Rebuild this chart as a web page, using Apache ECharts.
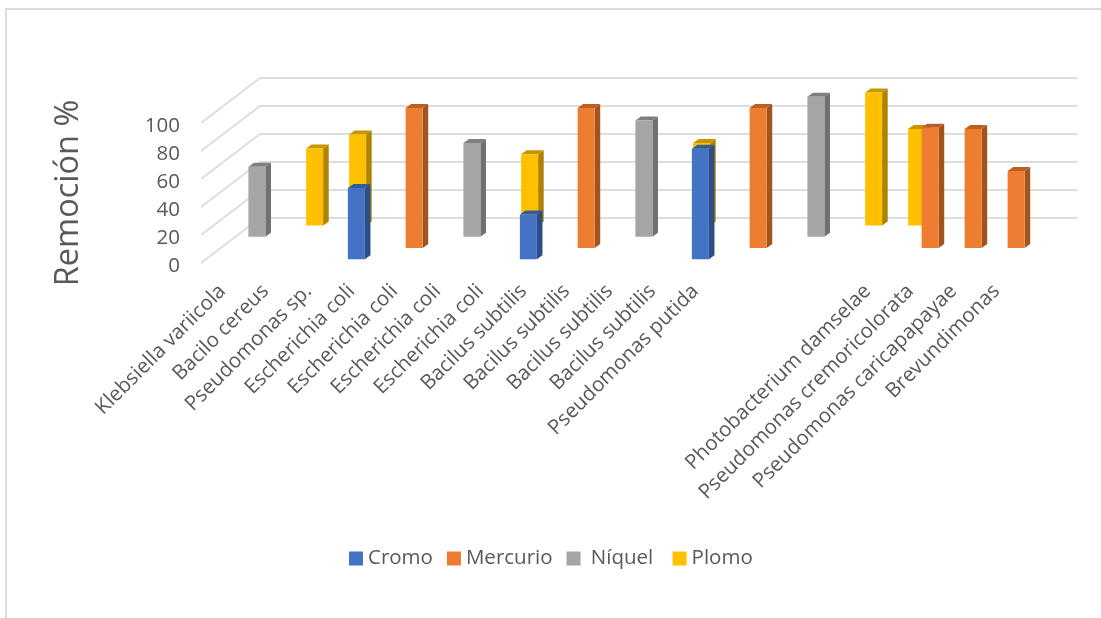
<!DOCTYPE html>
<html>
<head>
<meta charset="utf-8">
<style>html,body{margin:0;padding:0;background:#fff}#c{width:1101px;height:618px}</style>
<script src="https://cdn.jsdelivr.net/npm/echarts@6/dist/echarts.min.js"></script>
</head>
<body>
<div id="c"></div>
<script>
// Bacterial species, one slot per bar; three slots carry no label
const categories = ['Klebsiella variicola','Bacilo cereus','Pseudomonas sp.','Escherichia coli','Escherichia coli','Escherichia coli','Escherichia coli','Bacilus subtilis','Bacilus subtilis','Bacilus subtilis','Bacilus subtilis','Pseudomonas putida','','','','Photobacterium damselae','Pseudomonas cremoricolorata','Pseudomonas caricapapayae','Brevundimonas'];
const n = null;
const cromo    = [n,n,n,51,n,n,n,32,n,n,n,79,n,n,n,n,n,n,n];
const mercurio = [n,n,n,n,100,n,n,n,100,n,n,n,100,n,n,n,86,85,55];
const niquel   = [50,n,n,n,n,67,n,n,n,83,n,n,n,100,n,n,n,n,n];
const plomo    = [n,55,65,n,n,n,51,n,n,n,59,n,n,n,95,69,n,n,n];
const yTicks   = [0,20,40,60,80,100];

// Oblique projection of the depth axis, in pixels
const DEPTH_X = 59, DEPTH_Y = -45;
const BAR_W = 17, SIDE_X = 5.6, SIDE_Y = -4;

const gridLeft = 201, gridTop = 123, gridW = 817, gridH = 140;
const ink = '#595959';
const fontFamily = '"Open Sans", sans-serif';

function wallLines(params, api) {
  const y = api.coord([0, api.value(0)])[1];
  const x0 = params.coordSys.x, x1 = x0 + params.coordSys.width;
  return {
    type: 'polyline',
    shape: { points: [[x0, y], [x0 + DEPTH_X, y + DEPTH_Y], [x1 + DEPTH_X, y + DEPTH_Y]] },
    style: { stroke: '#dddddd', lineWidth: 2, fill: null }
  };
}

// A prism standing at a given row of the depth axis
function prism(row, front, side, top) {
  const frac = (row + 0.33) / 4;
  return function (params, api) {
    const base = api.coord([api.value(0), 0]);
    const head = api.coord([api.value(0), api.value(1)]);
    const l = base[0] - BAR_W / 2 + DEPTH_X * frac, r = l + BAR_W;
    const b = base[1] + DEPTH_Y * frac, t = head[1] + DEPTH_Y * frac;
    return {
      type: 'group',
      children: [
        { type: 'polygon', shape: { points: [[r, t], [r + SIDE_X, t + SIDE_Y], [r + SIDE_X, b + SIDE_Y], [r, b]] }, style: { fill: side } },
        { type: 'polygon', shape: { points: [[l, t], [l + SIDE_X, t + SIDE_Y], [r + SIDE_X, t + SIDE_Y], [r, t]] }, style: { fill: top } },
        { type: 'rect', shape: { x: l, y: t, width: BAR_W, height: b - t }, style: { fill: front } }
      ]
    };
  };
}

const pairs = arr => arr.map((v, i) => v === null ? null : [i, v]).filter(Boolean);

function metal(name, values, row, front, side, top) {
  return {
    name, type: 'custom', data: pairs(values), z: 10 + (3 - row),
    encode: { x: 0, y: 1 }, itemStyle: { color: front },
    renderItem: prism(row, front, side, top), clip: false
  };
}

const chart = echarts.init(document.getElementById('c'), null, { renderer: 'canvas' });
chart.setOption({
  animation: false,
  backgroundColor: '#fff',
  textStyle: { fontFamily },
  grid: { left: gridLeft, top: gridTop, width: gridW, height: gridH },
  graphic: [
    { type: 'polyline', silent: true, shape: { points: [[6, 618], [6, 9], [1101, 9]] }, style: { stroke: '#dcdcdc', lineWidth: 2, fill: null } }
  ],
  legend: {
    left: 344, top: 543, itemWidth: 14, itemHeight: 14, itemGap: 14, icon: 'rect',
    data: ['Cromo', 'Mercurio', 'Níquel', 'Plomo'],
    formatter: name => name === 'Níquel' ? '\u00a0Níquel\u00a0' : name,
    textStyle: { color: ink, fontSize: 20.5, fontFamily }
  },
  xAxis: {
    type: 'category', data: categories,
    axisLine: { show: false }, axisTick: { show: false }, splitLine: { show: false },
    axisLabel: { interval: 0, rotate: 45, margin: 25, fontSize: 20.5, color: ink, fontFamily }
  },
  yAxis: {
    type: 'value', min: 0, max: 100, interval: 20,
    name: 'Remoción %', nameLocation: 'middle', nameGap: 116, nameRotate: 90,
    nameTextStyle: { fontSize: 32.5, color: ink, fontFamily },
    axisLine: { show: false }, axisTick: { show: false }, splitLine: { show: false },
    axisLabel: {
      margin: 21, color: ink, fontFamily,
      formatter: '{t|{value}}',
      rich: { t: { fontSize: 20.5, color: ink, fontFamily, padding: [6, 0, 0, 0] } }
    }
  },
  series: [
    { type: 'custom', name: 'paredes', data: yTicks.map(v => [v]), encode: { y: 0 }, renderItem: wallLines, z: 1, silent: true, clip: false },
    metal('Plomo', plomo, 3, '#FFC000', '#AD8400', '#C79500'),
    metal('Níquel', niquel, 2, '#A5A5A5', '#707070', '#7F7F7F'),
    metal('Mercurio', mercurio, 1, '#ED7D31', '#A0541E', '#BD5E22'),
    metal('Cromo', cromo, 0, '#4472C4', '#2C4E87', '#345A9E')
  ]
});
</script>
</body>
</html>
